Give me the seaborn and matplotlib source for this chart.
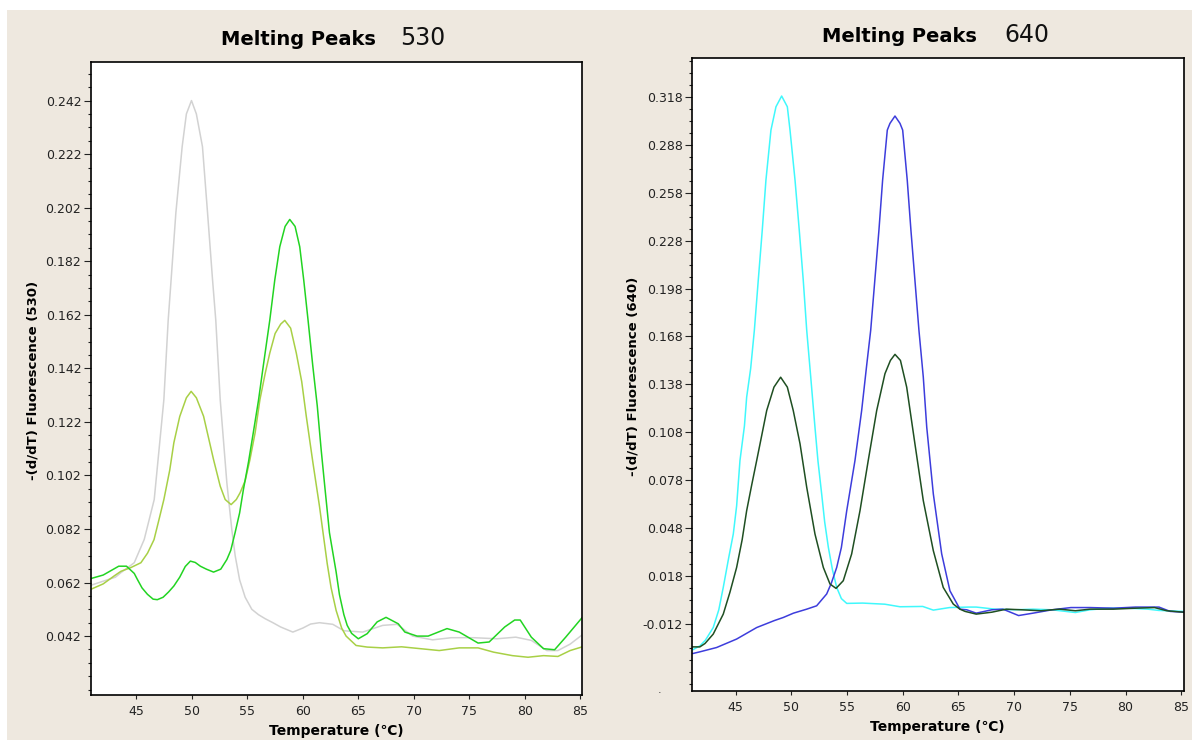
import numpy as np
import pandas as pd

import matplotlib
matplotlib.use('Agg')
import matplotlib.pyplot as plt
from matplotlib.patches import Rectangle
from matplotlib.ticker import FixedLocator
import seaborn as sns

# ---- channel 530 ----
gray_x = [40.9, 42.0, 43.1, 43.6, 44.8, 45.7, 46.6, 47.47, 47.86, 48.07, 48.55, 49.12, 49.5, 49.96,
          50.4, 50.95, 51.41, 51.86, 52.15, 52.55, 53.15, 53.6, 53.9, 54.3, 54.8, 55.4, 56.0, 56.6,
          57.3, 58.0, 59.1, 60.0, 60.7, 61.5, 62.7, 63.7, 65.4, 67.2, 68.5, 69.9, 71.7, 73.4, 75.4,
          77.5, 79.2, 80.6, 82.0, 83.0, 84.1, 85.2]
gray_y = [0.061, 0.0625, 0.064, 0.0657, 0.0694, 0.0781, 0.093, 0.1303, 0.160, 0.172, 0.200, 0.2248,
          0.237, 0.242, 0.237, 0.2248, 0.200, 0.175, 0.160, 0.1303, 0.0992, 0.0816, 0.072, 0.063,
          0.0565, 0.052, 0.050, 0.0485, 0.047, 0.0454, 0.0435, 0.045, 0.0465, 0.047, 0.0464, 0.044,
          0.0435, 0.046, 0.0464, 0.042, 0.0406, 0.0414, 0.0414, 0.041, 0.0416, 0.0404, 0.0366,
          0.0366, 0.039, 0.0425]

yg_x = [40.9, 42.0, 43.0, 43.6, 44.5, 45.4, 46.0, 46.58, 47.0, 47.47, 48.0, 48.37, 48.9, 49.5, 49.93,
        50.4, 51.05, 51.5, 51.95, 52.55, 53.0, 53.53, 54.0, 54.34, 54.8, 55.23, 55.7, 56.13, 56.6,
        57.02, 57.5, 58.0, 58.37, 58.9, 59.41, 59.9, 60.31, 60.9, 61.5, 62.2, 62.55, 63.0, 63.5, 63.9,
        64.8, 65.8, 67.2, 68.9, 70.6, 72.3, 74.1, 75.8, 77.2, 78.9, 80.3, 81.7, 83.0, 84.1, 85.2]
yg_y = [0.0595, 0.0615, 0.0645, 0.0662, 0.0676, 0.0694, 0.073, 0.078, 0.085, 0.093, 0.104, 0.1142,
        0.124, 0.131, 0.1334, 0.131, 0.1241, 0.116, 0.1079, 0.098, 0.093, 0.0911, 0.093, 0.0955,
        0.100, 0.1079, 0.118, 0.1303, 0.140, 0.1477, 0.155, 0.1585, 0.1599, 0.157, 0.1477, 0.137,
        0.1241, 0.107, 0.0905, 0.069, 0.060, 0.0516, 0.045, 0.042, 0.0385, 0.0379, 0.0376, 0.038,
        0.0373, 0.0366, 0.0376, 0.0376, 0.036, 0.0347, 0.0341, 0.0347, 0.0344, 0.0366, 0.038]

grn_x = [40.9, 42.0, 43.4, 44.1, 44.8, 45.09, 45.5, 45.99, 46.5, 46.88, 47.4, 47.9, 48.37, 48.9, 49.4,
         49.86, 50.3, 50.76, 51.3, 51.95, 52.6, 53.15, 53.5, 53.89, 54.3, 54.64, 55.1, 55.53, 56.0,
         56.43, 57.02, 57.47, 57.92, 58.4, 58.82, 59.3, 59.72, 60.08, 60.47, 60.9, 61.3, 61.65, 62.0,
         62.4, 63.0, 63.3, 63.7, 64.0, 64.4, 65.0, 65.8, 66.7, 67.5, 68.6, 69.2, 70.3, 71.3, 73.0,
         74.1, 75.8, 76.8, 78.2, 79.1, 79.6, 80.6, 81.7, 82.7, 83.7, 85.2]
grn_y = [0.0635, 0.0648, 0.0681, 0.0681, 0.0654, 0.0631, 0.060, 0.0576, 0.0558, 0.0556, 0.0565,
         0.0585, 0.0607, 0.064, 0.068, 0.070, 0.0695, 0.0681, 0.067, 0.0659, 0.067, 0.0706, 0.074,
         0.0806, 0.088, 0.0967, 0.107, 0.1179, 0.130, 0.1428, 0.160, 0.175, 0.1874, 0.195, 0.1976,
         0.195, 0.1874, 0.175, 0.160, 0.1428, 0.128, 0.1117, 0.097, 0.0806, 0.066, 0.0575, 0.050,
         0.046, 0.043, 0.041, 0.0429, 0.0473, 0.049, 0.0466, 0.0435, 0.042, 0.042, 0.0448, 0.0435,
         0.0394, 0.0398, 0.0454, 0.048, 0.048, 0.0416, 0.0373, 0.0369, 0.0416, 0.049]

# ---- channel 640 ----
cyan_x = [41.14, 41.8, 42.3, 43.0, 43.5, 43.9, 44.4, 44.8, 45.1, 45.4, 45.8, 46.0, 46.36, 46.69, 47.04,
          47.4, 47.73, 48.18, 48.63, 49.14, 49.65, 49.89, 50.34, 50.72, 51.08, 51.39, 51.75, 52.13,
          52.4, 52.73, 53.0, 53.33, 53.7, 54.08, 54.5, 54.98, 56.4, 58.4, 59.76, 61.8, 62.75, 64.2,
          65.9, 66.6, 68.3, 70.0, 71.7, 73.4, 75.5, 76.8, 78.5, 80.3, 82.0, 83.0, 85.2]
cyan_y = [-0.0281, -0.0256, -0.022, -0.0141, -0.003, 0.011, 0.030, 0.0444, 0.062, 0.0904, 0.112,
          0.130, 0.148, 0.1718, 0.2031, 0.2345, 0.2658, 0.2971, 0.3117, 0.3184, 0.3117, 0.2971,
          0.2658, 0.2345, 0.2031, 0.1718, 0.1426, 0.1112, 0.090, 0.0695, 0.052, 0.0361, 0.022, 0.011,
          0.004, 0.001, 0.0012, 0.0005, -0.0011, -0.0009, -0.0032, -0.0016, -0.0013, -0.0013,
          -0.0026, -0.003, -0.0026, -0.003, -0.0047, -0.003, -0.002, -0.002, -0.0026, -0.0034, -0.004]

blue_x = [41.14, 41.8, 43.3, 45.1, 46.9, 48.5, 49.29, 50.2, 51.39, 52.28, 53.18, 53.6, 54.08, 54.5,
          54.98, 55.72, 56.32, 56.77, 57.13, 57.5, 57.87, 58.2, 58.62, 58.86, 59.31, 59.76, 60.0,
          60.41, 60.74, 61.1, 61.46, 61.85, 62.16, 62.75, 63.5, 64.24, 65.14, 65.75, 66.6, 68.0,
          69.0, 70.4, 71.7, 73.4, 75.1, 76.8, 78.9, 80.9, 83.0, 84.0, 85.2]
blue_y = [-0.0304, -0.0293, -0.0266, -0.0213, -0.0141, -0.0097, -0.0078, -0.0051, -0.0026, -0.0005,
          0.0069, 0.0137, 0.0235, 0.036, 0.059, 0.0904, 0.1217, 0.150, 0.1718, 0.2031, 0.2345,
          0.2658, 0.2971, 0.3013, 0.3059, 0.3013, 0.2971, 0.2658, 0.2345, 0.2031, 0.1718, 0.1426,
          0.1112, 0.0695, 0.032, 0.0089, -0.0026, -0.003, -0.0051, -0.003, -0.0026, -0.0066,
          -0.0051, -0.003, -0.0016, -0.0016, -0.002, -0.0013, -0.0013, -0.004, -0.0045]

dkg_x = [41.14, 41.8, 42.26, 43.0, 43.9, 44.5, 45.1, 45.6, 46.0, 46.45, 46.9, 47.35, 47.8, 48.45,
         49.05, 49.65, 50.18, 50.79, 51.39, 52.13, 52.88, 53.48, 54.02, 54.67, 55.42, 56.17, 56.91,
         57.67, 58.41, 58.9, 59.31, 59.8, 60.36, 61.1, 61.85, 62.75, 63.64, 64.54, 65.14, 65.6,
         66.6, 68.0, 69.3, 70.7, 72.4, 74.1, 75.5, 76.8, 78.9, 80.9, 82.6, 83.7, 85.2]
dkg_y = [-0.0262, -0.0262, -0.0241, -0.0182, -0.0057, 0.008, 0.0235, 0.041, 0.059, 0.075, 0.0904,
         0.106, 0.1217, 0.1363, 0.1425, 0.1363, 0.1217, 0.1008, 0.0736, 0.0444, 0.0235, 0.0131,
         0.0104, 0.0152, 0.0319, 0.059, 0.0904, 0.1217, 0.1447, 0.153, 0.1568, 0.153, 0.1363,
         0.1008, 0.0653, 0.034, 0.011, 0.0006, -0.0026, -0.004, -0.0057, -0.0045, -0.0026, -0.003,
         -0.0036, -0.0026, -0.0036, -0.0026, -0.0026, -0.002, -0.0016, -0.0036, -0.0045]

ticks_530 = [0.042, 0.062, 0.082, 0.102, 0.122, 0.142, 0.162, 0.182, 0.202, 0.222, 0.242]
ticks_640 = [-0.012, 0.018, 0.048, 0.078, 0.108, 0.138, 0.168, 0.198, 0.228, 0.258, 0.288, 0.318]
temp_ticks = [45, 50, 55, 60, 65, 70, 75, 80, 85]

sns.set_theme(style='white')
plt.rcParams['font.family'] = ['DejaVu Sans']
plt.rcParams['text.color'] = 'black'
plt.rcParams['xtick.direction'] = 'out'
plt.rcParams['ytick.direction'] = 'out'

W, H = 1192, 740
fig = plt.figure(figsize=(W / 100, H / 100), dpi=100)
fig.patch.set_facecolor('white')

# beige window background behind both plots
bg = fig.add_axes([0, 0, 1, 1], zorder=-5)
bg.set_xlim(0, W)
bg.set_ylim(H, 0)
bg.axis('off')
bg.add_patch(Rectangle((7, 10), W - 7, H - 10, facecolor='#eee8df', edgecolor='none'))

ax1 = fig.add_axes([91 / W, (H - 695) / H, 491 / W, 633 / H])
ax2 = fig.add_axes([692.5 / W, (H - 691) / H, 491 / W, 633 / H])

df530 = pd.concat([
    pd.DataFrame({'T': gray_x, 'F': gray_y, 's': 'a'}),
    pd.DataFrame({'T': yg_x, 'F': yg_y, 's': 'b'}),
    pd.DataFrame({'T': grn_x, 'F': grn_y, 's': 'c'}),
])
df640 = pd.concat([
    pd.DataFrame({'T': cyan_x, 'F': cyan_y, 's': 'a'}),
    pd.DataFrame({'T': blue_x, 'F': blue_y, 's': 'b'}),
    pd.DataFrame({'T': dkg_x, 'F': dkg_y, 's': 'c'}),
])

sns.lineplot(data=df530, x='T', y='F', hue='s', estimator=None, sort=False, lw=1.1,
             palette={'a': '#d2d2d2', 'b': '#a8d046', 'c': '#22d422'}, legend=False, ax=ax1)
sns.lineplot(data=df640, x='T', y='F', hue='s', estimator=None, sort=False, lw=1.1,
             palette={'a': '#40f8fc', 'b': '#3d3ddc', 'c': '#1f4f22'}, legend=False, ax=ax2)

setups = [(ax1, (40.9, 85.17), (0.020, 0.2564), ticks_530, np.arange(0.022, 0.256, 0.005)),
          (ax2, (41.14, 85.2), (-0.0538, 0.3422), ticks_640, np.arange(-0.0495, 0.342, 0.0075))]
for ax, xl, yl, yt, ym in setups:
    ax.set_facecolor('white')
    ax.set_xlim(*xl)
    ax.set_ylim(*yl)
    ax.set_xticks(temp_ticks)
    ax.set_yticks(yt)
    ax.set_yticklabels(['%.3f' % v for v in yt])
    ax.yaxis.set_minor_locator(FixedLocator(ym))
    ax.tick_params(axis='y', which='major', length=5, width=0.8, pad=2, labelsize=9,
                   colors='#222222', left=True)
    ax.tick_params(axis='y', which='minor', length=2.5, width=0.8, left=True, color='#222222')
    ax.tick_params(axis='x', which='major', length=3, width=0.8, pad=4, labelsize=9,
                   colors='#222222', bottom=True)
    ax.set_xlabel('')
    ax.set_ylabel('')
    for sp in ax.spines.values():
        sp.set_visible(True)
        sp.set_color('black')
        sp.set_linewidth(1.2)

# titles
fig.text(221 / W, 1 - 45 / H, 'Melting Peaks', fontsize=14, fontweight='bold', ha='left', va='baseline')
fig.text(400 / W, 1 - 45 / H, '530', fontsize=17, color='#111111', ha='left', va='baseline')
fig.text(822 / W, 1 - 41.5 / H, 'Melting Peaks', fontsize=14, fontweight='bold', ha='left', va='baseline')
fig.text(1004 / W, 1 - 41.5 / H, '640', fontsize=17, color='#111111', ha='left', va='baseline')

# axis labels
fig.text(33 / W, 1 - 380 / H, '-(d/dT) Fluorescence (530)', rotation=90, fontsize=9.5,
         fontweight='bold', ha='center', va='center')
fig.text(633 / W, 1 - 376 / H, '-(d/dT) Fluorescence (640)', rotation=90, fontsize=9.5,
         fontweight='bold', ha='center', va='center')
fig.text(336 / W, 1 - 731 / H, 'Temperature (℃)', fontsize=10, fontweight='bold', ha='center', va='center')
fig.text(937 / W, 1 - 727 / H, 'Temperature (℃)', fontsize=10, fontweight='bold', ha='center', va='center')
fig.text(660 / W, 1 - 693 / H, '.', fontsize=8, color='#333333', ha='center', va='baseline')

fig.savefig('out.png', dpi=100, facecolor=fig.get_facecolor())
plt.close()
